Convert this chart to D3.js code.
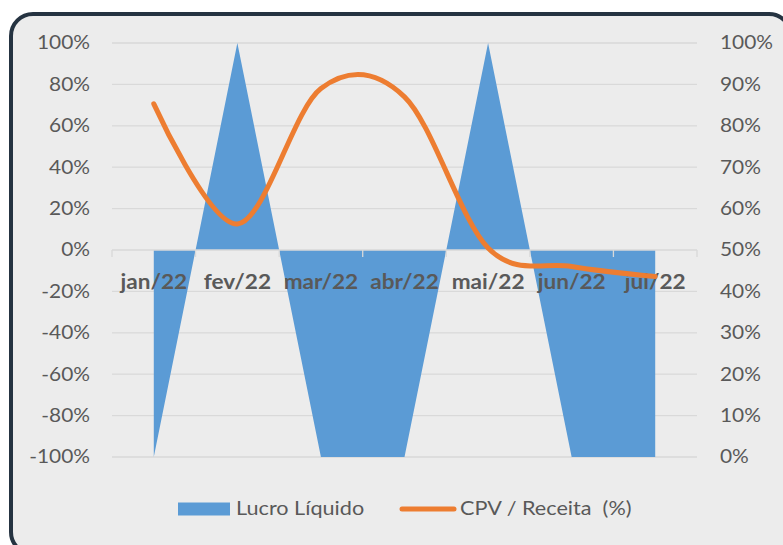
<!DOCTYPE html>
<meta charset="utf-8" />
<script src="https://d3js.org/d3.v7.min.js"></script>
<style>
  body { margin: 0; background: #fff; }
  text { font-family: Lato, "Open Sans", sans-serif; }
</style>
<body>
<div id="chart"></div>
<script>
  // data
  const months = ["jan/22", "fev/22", "mar/22", "abr/22", "mai/22", "jun/22", "jul/22"];
  const lucro = [-1, 1, -1, -1, 1, -1, -1];
  const cpv = [0.853, 0.563, 0.89, 0.87, 0.505, 0.46, 0.436];
  const leftTicks = [-1, -0.8, -0.6, -0.4, -0.2, 0, 0.2, 0.4, 0.6, 0.8, 1];
  const rightTicks = [0, 0.1, 0.2, 0.3, 0.4, 0.5, 0.6, 0.7, 0.8, 0.9, 1];

  const W = 783, H = 545;
  const svg = d3.select("#chart").append("svg")
    .attr("width", W).attr("height", H);

  // the source font runs wider than Lato, so stretch text a little
  const at = (x, y, s = 1.13) => `translate(${x},${y}) scale(${s},1)`;

  // rounded frame
  svg.append("rect")
    .attr("x", 11).attr("y", 14)
    .attr("width", 780).attr("height", 540)
    .attr("rx", 22)
    .attr("fill", "#ececec")
    .attr("stroke", "#253341")
    .attr("stroke-width", 4);

  const plot = { left: 112, right: 697, top: 43, bottom: 457 };

  const xBand = d3.scaleBand().domain(months).range([plot.left, plot.right]);
  const x = d3.scalePoint().domain(months).range([plot.left, plot.right]).padding(0.5);
  const yL = d3.scaleLinear().domain([-1, 1]).range([plot.bottom, plot.top]);
  const yR = d3.scaleLinear().domain([0, 1]).range([plot.bottom, plot.top]);

  const pct = d => Math.round(d * 100) + "%";

  // gridlines
  svg.append("g")
    .selectAll("line")
    .data(leftTicks.filter(d => d !== 0))
    .join("line")
    .attr("x1", plot.left).attr("x2", plot.right)
    .attr("y1", d => yL(d)).attr("y2", d => yL(d))
    .attr("stroke", "#d9d9d9").attr("stroke-width", 1.3);

  // area series
  const area = d3.area()
    .x((d, i) => x(months[i]))
    .y0(yL(0))
    .y1(d => yL(d));
  svg.append("path")
    .datum(lucro)
    .attr("d", area)
    .attr("fill", "#5b9bd5");

  // category axis
  const xAxis = svg.append("g");
  xAxis.append("line")
    .attr("x1", plot.left).attr("x2", plot.right)
    .attr("y1", yL(0)).attr("y2", yL(0))
    .attr("stroke", "#d9d9d9").attr("stroke-width", 1.3);
  const bounds = months.map(m => xBand(m)).concat([plot.right]);
  xAxis.selectAll("line.tick")
    .data(bounds)
    .join("line")
    .attr("class", "tick")
    .attr("x1", d => d).attr("x2", d => d)
    .attr("y1", yL(0)).attr("y2", yL(0) + 7)
    .attr("stroke", "#d9d9d9").attr("stroke-width", 1.3);
  xAxis.selectAll("text")
    .data(months)
    .join("text")
    .attr("transform", d => at(x(d), yL(0) + 39))
    .attr("text-anchor", "middle")
    .attr("font-size", "20px")
    .attr("font-weight", "bold")
    .attr("fill", "#595959")
    .text(d => d);

  // line series
  const line = d3.line()
    .x((d, i) => x(months[i]))
    .y(d => yR(d))
    .curve(d3.curveCatmullRom.alpha(0));
  svg.append("path")
    .datum(cpv)
    .attr("d", line)
    .attr("fill", "none")
    .attr("stroke", "#ed7d31")
    .attr("stroke-width", 5)
    .attr("stroke-linecap", "round")
    .attr("stroke-linejoin", "round");

  // left axis labels
  svg.append("g")
    .selectAll("text")
    .data(leftTicks)
    .join("text")
    .attr("transform", d => at(90, yL(d)))
    .attr("dy", "0.35em")
    .attr("text-anchor", "end")
    .attr("font-size", "18.5px")
    .attr("fill", "#595959")
    .text(d => pct(d));

  // right axis labels
  svg.append("g")
    .selectAll("text")
    .data(rightTicks)
    .join("text")
    .attr("transform", d => at(720, yR(d)))
    .attr("dy", "0.35em")
    .attr("text-anchor", "start")
    .attr("font-size", "18.5px")
    .attr("fill", "#595959")
    .text(d => pct(d));

  // legend
  const legend = svg.append("g").attr("transform", "translate(0,509)");
  legend.append("rect")
    .attr("x", 178).attr("y", -6.5)
    .attr("width", 52).attr("height", 13)
    .attr("fill", "#5b9bd5");
  legend.append("text")
    .attr("transform", at(236, 0, 1.17))
    .attr("dy", "0.35em")
    .attr("font-size", "18.5px").attr("fill", "#595959")
    .text("Lucro Líquido");
  legend.append("line")
    .attr("x1", 402).attr("x2", 454)
    .attr("y1", 0).attr("y2", 0)
    .attr("stroke", "#ed7d31").attr("stroke-width", 5)
    .attr("stroke-linecap", "round");
  legend.append("text")
    .attr("transform", at(460, 0, 1.17))
    .attr("dy", "0.35em")
    .attr("font-size", "18.5px").attr("fill", "#595959")
    .attr("xml:space", "preserve")
    .style("white-space", "pre")
    .text("CPV / Receita  (%)");
</script>
</body>
